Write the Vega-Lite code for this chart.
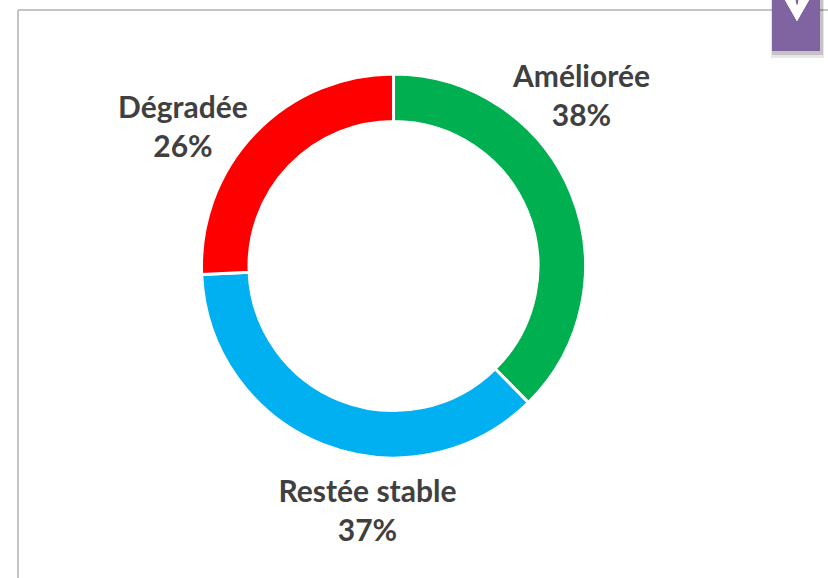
{
"$schema":"https://vega.github.io/schema/vega-lite/v6.json",
"width":828,"height":578,"padding":0,
"autosize":{"type":"fit","contains":"padding"},
"background":"white",
"view":{"stroke":null},
"data":{"values":[
{"categorie":"Améliorée","part":37.6,"rang":1,"etiquette":"Améliorée\n38%"},
{"categorie":"Restée stable","part":36.7,"rang":2,"etiquette":"Restée stable\n37%"},
{"categorie":"Dégradée","part":25.7,"rang":3,"etiquette":"Dégradée\n26%"}
]},
"encoding":{
"x":{"scale":{"domain":[0,828],"range":[0,828]},"axis":null},
"y":{"scale":{"domain":[0,578],"range":[0,578]},"axis":null}
},
"layer":[
{"mark":{"type":"rule","color":"#C4C4C4","strokeWidth":2,"clip":true},"encoding":{"x":{"datum":18},"y":{"datum":10},"x2":{"datum":828},"y2":{"datum":10}}},
{"mark":{"type":"rule","color":"#C4C4C4","strokeWidth":2,"clip":true},"encoding":{"x":{"datum":18},"y":{"datum":10},"x2":{"datum":18},"y2":{"datum":578}}},
{"mark":{"type":"rect","color":"#000000","opacity":0.03,"clip":true},"encoding":{"x":{"datum":771},"x2":{"datum":824},"y":{"datum":0},"y2":{"datum":58}}},
{"mark":{"type":"rect","color":"#000000","opacity":0.05,"clip":true},"encoding":{"x":{"datum":772},"x2":{"datum":823},"y":{"datum":0},"y2":{"datum":55}}},
{"mark":{"type":"rect","color":"#8064A2","clip":true},"encoding":{"x":{"datum":772},"x2":{"datum":820},"y":{"datum":0},"y2":{"datum":51}}},
{"mark":{"type":"point","filled":true,"color":"#FFFFFF","opacity":1,"size":900,"clip":true,"shape":"M-0.8,-0.6 L-0.12,-0.6 L-0.02,-0.2 L0.02,-0.2 L0.12,-0.6 L0.8,-0.6 L0,0.8 Z"},"encoding":{"x":{"datum":797},"y":{"datum":9}}},
{"mark":{"type":"arc","radius":192,"radius2":144.5,"stroke":"#FFFFFF","strokeWidth":3},
 "encoding":{
  "x":{"datum":393.5},"y":{"datum":266},
  "theta":{"field":"part","type":"quantitative","stack":true,"scale":{"domain":[0,100],"range":[0,6.28318530718]}},
  "order":{"field":"rang","type":"ordinal"},
  "color":{"field":"categorie","type":"nominal","legend":null,"scale":{"domain":["Améliorée","Restée stable","Dégradée"],"range":["#00B050","#00B0F0","#FF0000"]}}
 }},
{"transform":[{"filter":"datum.categorie==='Améliorée'"}],"mark":{"type":"text","font":"Lato","fontWeight":"bold","fontSize":30,"color":"#404040","lineBreak":"\n","lineHeight":39,"align":"center","baseline":"middle"},"encoding":{"x":{"datum":581.5},"y":{"datum":78},"text":{"field":"etiquette"}}},
{"transform":[{"filter":"datum.categorie==='Restée stable'"}],"mark":{"type":"text","font":"Lato","fontWeight":"bold","fontSize":30,"color":"#404040","lineBreak":"\n","lineHeight":39,"align":"center","baseline":"middle"},"encoding":{"x":{"datum":367.5},"y":{"datum":493},"text":{"field":"etiquette"}}},
{"transform":[{"filter":"datum.categorie==='Dégradée'"}],"mark":{"type":"text","font":"Lato","fontWeight":"bold","fontSize":30,"color":"#404040","lineBreak":"\n","lineHeight":39,"align":"center","baseline":"middle"},"encoding":{"x":{"datum":183},"y":{"datum":109},"text":{"field":"etiquette"}}}
]
}
